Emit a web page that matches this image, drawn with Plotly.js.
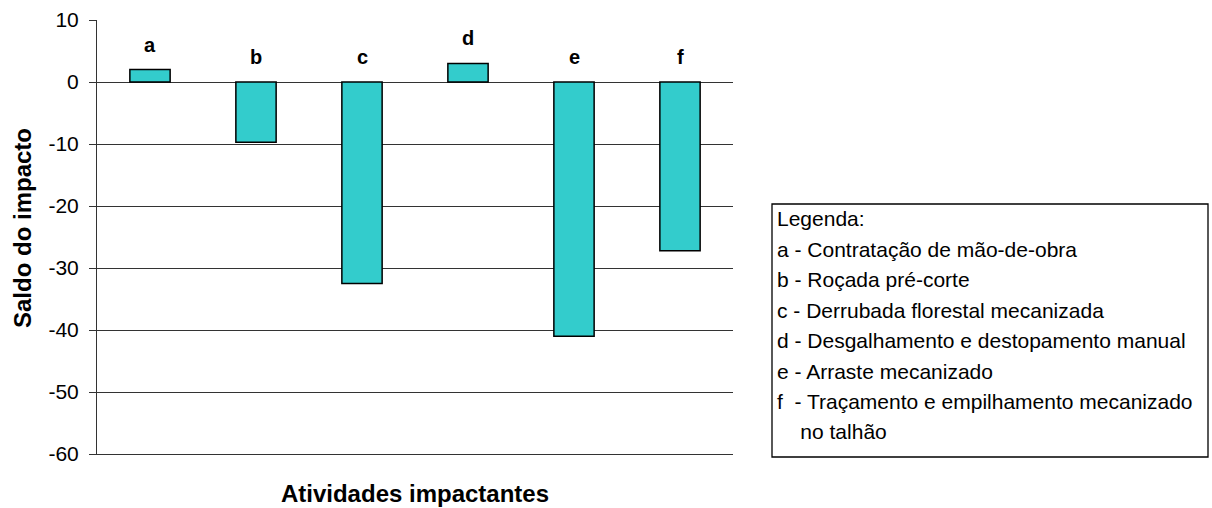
<!DOCTYPE html>
<html>
<head>
<meta charset="utf-8">
<script src="https://cdn.plot.ly/plotly-3.0.1.min.js"></script>
<style>html,body{margin:0;padding:0;background:#fff;}#chart{width:1212px;height:508px;}</style>
</head>
<body>
<div id="chart"></div>
<script>
const categories = ['a', 'b', 'c', 'd', 'e', 'f'];
const values = [2, -9.7, -32.5, 3, -41, -27.2];
const yTickValues = [10, 0, -10, -20, -30, -40, -50, -60];
const yTickLabels = ['10', '0', '-10', '-20', '-30', '-40', '-50', '-60'];
const xTitle = 'Atividades impactantes';
const yTitle = 'Saldo do impacto';
const legendHeading = 'Legenda:';
const legendLines = [
  'a - Contratação de mão-de-obra',
  'b - Roçada pré-corte',
  'c - Derrubada florestal mecanizada',
  'd - Desgalhamento e destopamento manual',
  'e - Arraste mecanizado',
  'f\u00a0 - Traçamento e empilhamento mecanizado',
  '\u00a0\u00a0\u00a0\u00a0no talhão'
];

const FONT = 'Liberation Sans, Arial, sans-serif';
const W = 1212, H = 508;
const M = {l: 97, r: 479, t: 20, b: 54};
const plotW = W - M.l - M.r, plotH = H - M.t - M.b;
const pxToPaperX = px => (px - M.l) / plotW;
const pxToPaperY = py => (H - M.b - py) / plotH;

const annotations = [];
// bar letter labels
categories.forEach((c, i) => {
  annotations.push({
    x: c, y: Math.max(values[i], 0), xref: 'x', yref: 'y',
    text: '<b>' + c + '</b>', showarrow: false,
    yanchor: 'bottom', yshift: 12,
    font: {family: FONT, size: 20, color: '#000'}
  });
});
// y axis title
annotations.push({
  x: pxToPaperX(22), y: pxToPaperY(228), xref: 'paper', yref: 'paper',
  xanchor: 'center', yanchor: 'middle', textangle: -90, showarrow: false,
  text: '<b>' + yTitle + '</b>',
  font: {family: FONT, size: 24, color: '#000'}
});
// legend text
const allLines = [legendHeading].concat(legendLines);
allLines.forEach((t, i) => {
  annotations.push({
    x: pxToPaperX(775), y: pxToPaperY(219 + i * 30.4),
    xref: 'paper', yref: 'paper', xanchor: 'left', yanchor: 'middle',
    text: t, showarrow: false, align: 'left',
    font: {family: FONT, size: 21, color: '#000'}
  });
});

const shapes = [{
  type: 'rect', xref: 'paper', yref: 'paper',
  x0: pxToPaperX(772), x1: pxToPaperX(1208),
  y0: pxToPaperY(457), y1: pxToPaperY(204),
  line: {color: '#000', width: 1.3}, fillcolor: 'rgba(0,0,0,0)'
}];

const trace = {
  type: 'bar', x: categories, y: values, width: 0.38,
  marker: {color: '#33CCCC', line: {color: '#000', width: 1.5}},
  hoverinfo: 'skip'
};

const layout = {
  width: W, height: H,
  margin: M,
  paper_bgcolor: '#fff', plot_bgcolor: '#fff',
  showlegend: false,
  font: {family: FONT, color: '#000'},
  xaxis: {
    range: [-0.5, 5.5], showticklabels: false, showgrid: false,
    zeroline: false, showline: true, linecolor: '#333', linewidth: 1, ticks: '',
    title: {text: '<b>' + xTitle + '</b>', font: {family: FONT, size: 24, color: '#000'}, standoff: 31}
  },
  yaxis: {
    range: [-60, 10], tickvals: yTickValues, ticktext: yTickLabels,
    ticks: 'outside', ticklen: 7,
    tickcolor: '#333', tickwidth: 1, showline: true, linecolor: '#333', linewidth: 1,
    showgrid: true, gridcolor: '#333', gridwidth: 1, zeroline: false,
    tickfont: {family: FONT, size: 21, color: '#000'}, ticklabelstandoff: 6
  },
  annotations: annotations,
  shapes: shapes
};

Plotly.newPlot('chart', [trace], layout, {displayModeBar: false, staticPlot: true});
</script>
</body>
</html>
